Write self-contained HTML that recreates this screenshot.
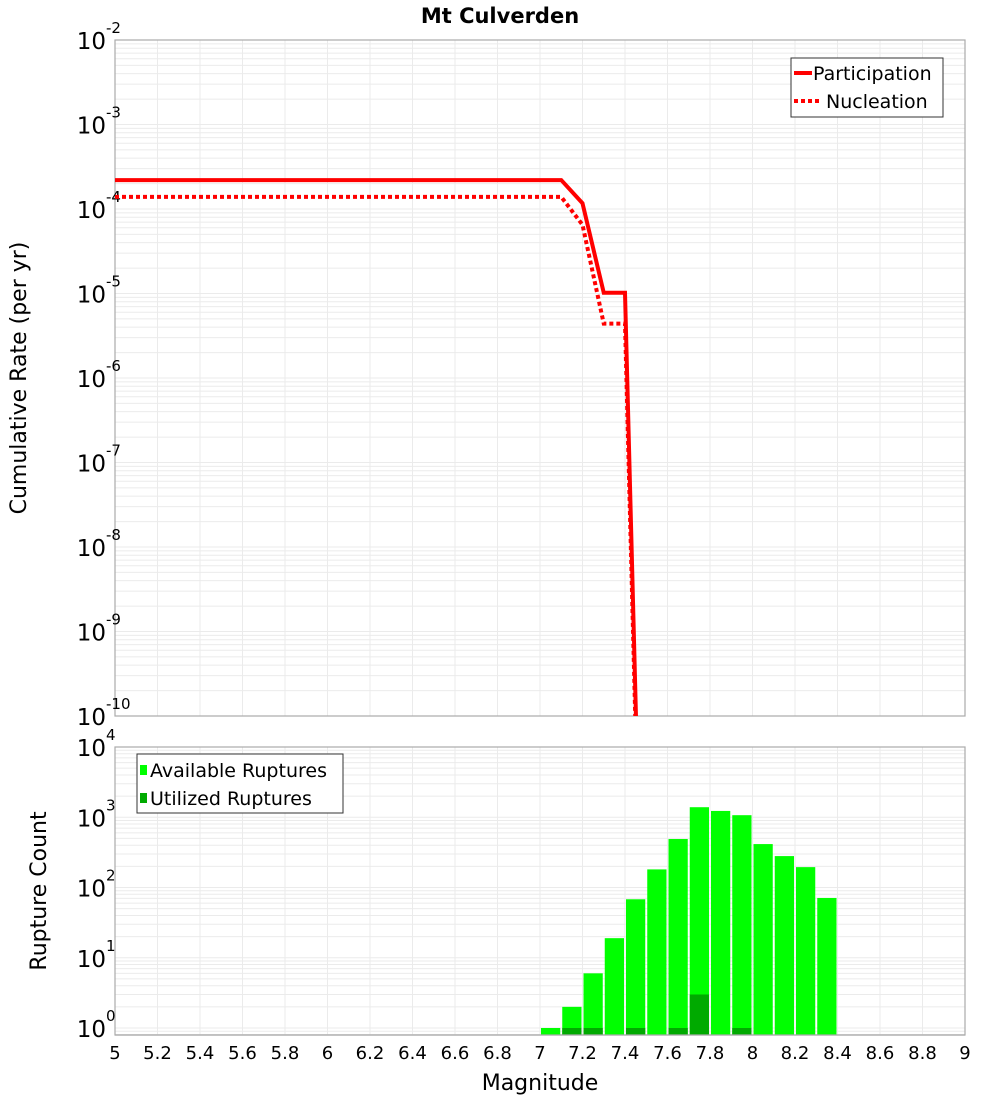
<!DOCTYPE html>
<html><head><meta charset="utf-8"><style>
body{margin:0;background:#fff;}
svg text{font-family:"DejaVu Sans","Liberation Sans",sans-serif;}
</style></head><body>
<svg id="c" width="1000" height="1100" xmlns="http://www.w3.org/2000/svg">
<text x="500" y="23" text-anchor="middle" font-size="21" font-weight="bold">Mt Culverden</text>
<g id="top"></g>
<g id="bot"></g>
<text transform="translate(26,378) rotate(-90)" text-anchor="middle" font-size="22">Cumulative Rate (per yr)</text>
<text transform="translate(46,891) rotate(-90)" text-anchor="middle" font-size="22">Rupture Count</text>
<text x="540" y="1090" text-anchor="middle" font-size="22">Magnitude</text>
</svg>
<script>
const partMags=[5,7.1,7.2,7.3,7.4,7.5];
const partRates=[2.2e-4,2.2e-4,1.17e-4,1.02e-5,1.02e-5,2e-15];
const nuclMags=[5,7.1,7.2,7.3,7.4,7.5];
const nuclRates=[1.39e-4,1.39e-4,6.5e-5,4.4e-6,4.4e-6,1e-15];
const barMags=[7.05,7.15,7.25,7.35,7.45,7.55,7.65,7.75,7.85,7.95,8.05,8.15,8.25,8.35];
const availCounts=[1,2,6,19,68,181,490,1390,1230,1070,415,280,195,71];
const usedMags=[7.15,7.25,7.45,7.65,7.75,7.95];
const usedCounts=[1,1,1,1,3,1];
const xTicks=[5,5.2,5.4,5.6,5.8,6,6.2,6.4,6.6,6.8,7,7.2,7.4,7.6,7.8,8,8.2,8.4,8.6,8.8,9];
const topExps=[-2,-3,-4,-5,-6,-7,-8,-9,-10];
const botExps=[4,3,2,1,0];

const NS="http://www.w3.org/2000/svg";
const X0=115,X1=965;
const xs=m=>X0+(m-5)/4*(X1-X0);
const T0=40,T1=716;
const yt=v=>T0+(-2-Math.log10(v))*(T1-T0)/8;
const B0=747,B1=1035,BD=70.25;
const yb=v=>B0+(4-Math.log10(v))*BD;
function mk(p,tag,a){const e=document.createElementNS(NS,tag);for(const k in a)e.setAttribute(k,a[k]);p.appendChild(e);return e;}
const topG=document.getElementById('top'),botG=document.getElementById('bot');

function grid(g,y0,y1,yf,exps){
  const lo=Math.min(...exps)-1,hi=Math.max(...exps);
  for(let e=lo;e<hi;e++){
    for(let k=1;k<10;k++){const v=Math.pow(10,e)*k;const y=yf(v);
      if(y>=y0&&y<=y1){const l=mk(g,'line',{x1:X0,x2:X1,y1:y,y2:y,stroke:'#ebebeb','stroke-width':1});
      
      }}
  }
  xTicks.forEach(m=>{const l=mk(g,'line',{x1:xs(m),x2:xs(m),y1:y0,y2:y1,stroke:'#ebebeb','stroke-width':1});
    
    });
  const f=mk(g,'rect',{x:X0,y:y0,width:X1-X0,height:y1-y0,fill:'none',stroke:'#aaa','stroke-width':1.2});
  
  
}
function ylab(g,e,y){
  const t=mk(g,'text',{x:106,y:y+9,'text-anchor':'end','font-size':23});
  
  
  t.textContent='10';
  const s=mk(g,'text',{x:106,y:y-7,'font-size':15});
  
  
  s.textContent=String(e);
}
grid(topG,T0,T1,yt,topExps);
topExps.forEach(e=>ylab(topG,e,yt(Math.pow(10,e))));
const cp=mk(topG,'clipPath',{id:'cpt'});mk(cp,'rect',{x:X0,y:T0,width:X1-X0,height:T1-T0});
function line(mags,rates,dash,name){
  const p=mk(topG,'polyline',{points:mags.map((m,i)=>xs(m)+','+yt(rates[i])).join(' '),fill:'none',stroke:'#ff0000','stroke-width':4,'clip-path':'url(#cpt)'});
  if(dash)p.setAttribute('stroke-dasharray','4,3');
  
  
}
line(nuclMags,nuclRates,true,'nucleation-line');
line(partMags,partRates,false,'participation-line');
const lg=mk(topG,'g',{});


mk(lg,'rect',{x:791,y:58,width:152,height:59,fill:'#fff',stroke:'#333','stroke-width':1});
mk(lg,'line',{x1:794,x2:812,y1:73,y2:73,stroke:'#f00','stroke-width':4});
mk(lg,'line',{x1:794,x2:820,y1:101,y2:101,stroke:'#f00','stroke-width':4,'stroke-dasharray':'4,3'});
let t=mk(lg,'text',{x:813,y:80,'font-size':19});t.textContent='Participation';


t=mk(lg,'text',{x:826,y:108,'font-size':19});t.textContent='Nucleation';


grid(botG,B0,B1,yb,botExps);
botExps.forEach(e=>ylab(botG,e,yb(Math.pow(10,e))));
const bw=(xs(5.1)-X0)-2;
barMags.forEach((m,i)=>{const y=yb(availCounts[i]);
  const r=mk(botG,'rect',{x:xs(m)-bw/2,y:y,width:bw,height:B1-y,fill:'#00ff00'});
  
  });
usedMags.forEach((m,i)=>{const y=yb(usedCounts[i]);
  const r=mk(botG,'rect',{x:xs(m)-bw/2,y:y,width:bw,height:B1-y,fill:'#00aa00'});
  
  });
mk(botG,'line',{x1:X0,x2:X1,y1:B1,y2:B1,stroke:'#aaa','stroke-width':1.2});
xTicks.forEach(m=>{const t=mk(botG,'text',{x:xs(m),y:1059,'text-anchor':'middle','font-size':18});
  t.textContent=String(m);
  
  });
const bl=mk(botG,'g',{});


mk(bl,'rect',{x:137,y:754,width:206,height:59,fill:'#fff',stroke:'#333','stroke-width':1});
mk(bl,'rect',{x:140,y:765,width:7,height:10,fill:'#00ff00'});
mk(bl,'rect',{x:140,y:793,width:7,height:10,fill:'#00aa00'});
t=mk(bl,'text',{x:150,y:777,'font-size':19});t.textContent='Available Ruptures';


t=mk(bl,'text',{x:150,y:805,'font-size':19});t.textContent='Utilized Ruptures';


</script>
</body></html>
